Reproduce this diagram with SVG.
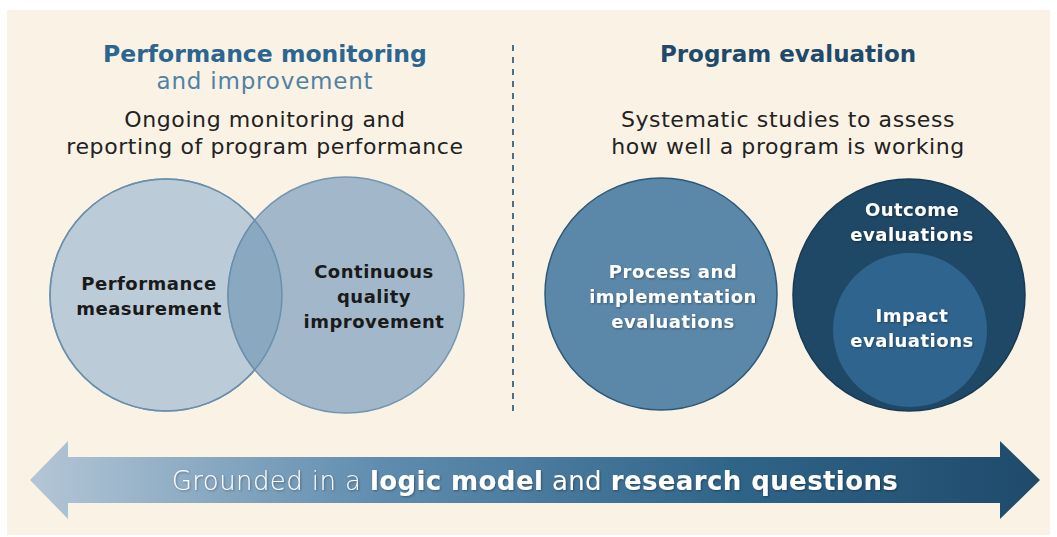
<svg xmlns="http://www.w3.org/2000/svg" width="1057" height="537" viewBox="0 0 1057 537">
<defs>
<style>
.h{font-family:"DejaVu Sans","Liberation Sans",sans-serif;font-weight:bold;text-anchor:middle}
.s{font-family:"DejaVu Sans","Liberation Sans",sans-serif;text-anchor:middle;fill:#222;font-size:22px;letter-spacing:0.6px}
.c{font-family:"DejaVu Sans","Liberation Sans",sans-serif;font-weight:bold;text-anchor:middle;font-size:18px;letter-spacing:0.5px}
.w{fill:#fff}
.k{fill:#1a1a1a}
</style>
<linearGradient id="ag" x1="0" y1="0" x2="1" y2="0">
<stop offset="0" stop-color="#b4c6d6"/>
<stop offset="0.35" stop-color="#5f8cae"/>
<stop offset="0.7" stop-color="#2f6489"/>
<stop offset="1" stop-color="#1f4a6a"/>
</linearGradient>
<clipPath id="c1"><circle cx="166" cy="295" r="116"/></clipPath>
<filter id="sh" x="-5%" y="-20%" width="110%" height="140%"><feDropShadow dx="1" dy="1" stdDeviation="1" flood-color="#000" flood-opacity="0.35"/></filter>
</defs>
<rect x="0" y="0" width="1057" height="537" fill="#ffffff"/>
<rect x="7" y="10" width="1043" height="525" fill="#faf3e5"/>

<g id="left-header">
<text class="h" x="265" y="62" font-size="23.5" fill="#2c6690">Performance monitoring</text>
<text class="s" x="265" y="89" style="fill:#4f82a3;font-size:23px;letter-spacing:0.8px">and improvement</text>
<text class="s" x="265" y="127">Ongoing monitoring and</text>
<text class="s" x="265" y="154">reporting of program performance</text>
</g>
<g id="right-header">
<text class="h" x="788" y="62" font-size="23" fill="#1f4a6c">Program evaluation</text>
<text class="s" x="788" y="127">Systematic studies to assess</text>
<text class="s" x="788" y="154">how well a program is working</text>
</g>

<g id="connectors">
<line x1="513" y1="45" x2="513" y2="412" stroke="#4a6f8c" stroke-width="2" stroke-dasharray="6,6"/>
</g>

<g id="performance-measurement">
<circle cx="166" cy="295" r="116" fill="#bccbd8" stroke="#7396b1" stroke-width="1.5"/>
</g>
<g id="continuous-quality-improvement">
<circle cx="346" cy="295" r="118" fill="#a2b8ca" stroke="#7396b1" stroke-width="1.5"/>
<circle cx="346" cy="295" r="118" fill="#8aa8c0" stroke="#6a8fac" stroke-width="1.5" clip-path="url(#c1)"/>
<circle cx="166" cy="295" r="116" fill="none" stroke="#6a8fac" stroke-width="1.5"/>
<text class="c k" x="374" y="278">Continuous</text>
<text class="c k" x="374" y="303">quality</text>
<text class="c k" x="374" y="328">improvement</text>
</g>
<g id="pm-label">
<text class="c k" x="149" y="290">Performance</text>
<text class="c k" x="149" y="315">measurement</text>
</g>

<g id="process-implementation">
<circle cx="661" cy="294" r="116" fill="#5b87a9" stroke="#2d5878" stroke-width="1.5"/>
<g filter="url(#sh)">
<text class="c w" x="673" y="278">Process and</text>
<text class="c w" x="673" y="303">implementation</text>
<text class="c w" x="673" y="328">evaluations</text>
</g>
</g>

<g id="outcome-evaluations">
<circle cx="909" cy="295" r="116" fill="#1f4766" stroke="#183a55" stroke-width="1.5"/>
<g filter="url(#sh)">
<text class="c w" x="912" y="216">Outcome</text>
<text class="c w" x="912" y="241">evaluations</text>
</g>
</g>
<g id="impact-evaluations">
<circle cx="910" cy="330" r="77" fill="#2f648e"/>
<g filter="url(#sh)">
<text class="c w" x="912" y="322">Impact</text>
<text class="c w" x="912" y="347">evaluations</text>
</g>
</g>

<g id="arrow">
<polygon points="30,480 68,441 68,457 1000,457 1000,441 1040,480 1000,519 1000,503 68,503 68,519" fill="url(#ag)"/>
<text x="535" y="490" text-anchor="middle" font-family="'DejaVu Sans','Liberation Sans',sans-serif" font-size="26" letter-spacing="0.4" fill="#fff" filter="url(#sh)"><tspan font-weight="300">Grounded in a </tspan><tspan font-weight="bold">logic model</tspan><tspan> and </tspan><tspan font-weight="bold">research questions</tspan></text>
</g>
</svg>
